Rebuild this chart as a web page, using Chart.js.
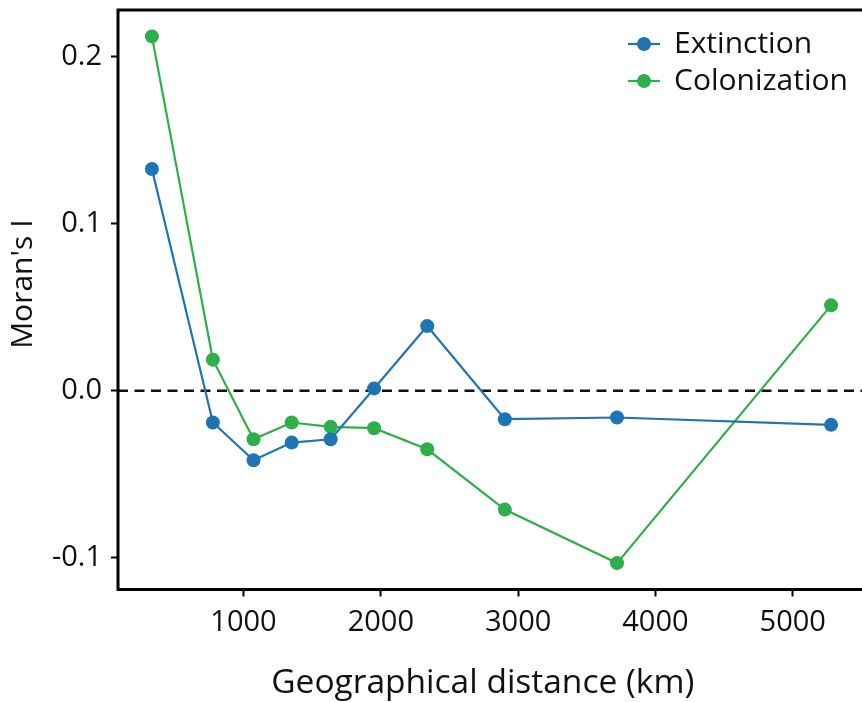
<!DOCTYPE html>
<html><head><meta charset="utf-8">
<script src="https://cdn.jsdelivr.net/npm/chart.js@4"></script>
<style>html,body{margin:0;padding:0;overflow:hidden;background:#fff;width:862px;height:702px}
#wrap{position:absolute;left:0;top:0;width:872px;height:702px}</style>
</head><body><div id="wrap"><canvas id="c" width="872" height="702"></canvas></div>
<script>
const distances = [333, 777, 1073, 1351, 1635, 1951, 2338, 2903, 3720, 5279];
const extinction = [0.1327, -0.019, -0.0416, -0.031, -0.029, 0.0014, 0.0387, -0.017, -0.016, -0.0204];
const colonization = [0.212, 0.0186, -0.029, -0.019, -0.0216, -0.0224, -0.035, -0.0711, -0.1031, 0.0511];
const seriesNames = ['Extinction', 'Colonization'];
const xTicks = [1000, 2000, 3000, 4000, 5000];
const yTicks = [-0.1, 0.0, 0.1, 0.2];
const refLine = 0;

const BLUE = '#1f74b4', GREEN = '#2daf49';
const FONT = '"Open Sans", sans-serif';

const toPts = (xs, ys) => xs.map((x, i) => ({x, y: ys[i]}));

const framePlugin = {
  id: 'frame',
  beforeDatasetsDraw(chart) {
    const {ctx, chartArea: a, scales: {y}} = chart;
    const py = y.getPixelForValue(refLine);
    ctx.save();
    ctx.strokeStyle = '#111';
    ctx.lineWidth = 2.4;
    ctx.setLineDash([10, 6.5]);
    ctx.beginPath(); ctx.moveTo(a.left, py); ctx.lineTo(a.right, py); ctx.stroke();
    ctx.restore();
  },
  afterDraw(chart) {
    const {ctx, chartArea: a} = chart;
    ctx.save();
    ctx.strokeStyle = '#000';
    ctx.lineWidth = 3;
    ctx.strokeRect(a.left, a.top, a.right - a.left, a.bottom - a.top);
    // legend
    const rows = chart.data.datasets.map(d => ({label: d.label, color: d.borderColor}));
    rows.forEach((r, i) => {
      const yy = 44 + i * 37;
      ctx.strokeStyle = r.color; ctx.lineWidth = 2.2;
      ctx.beginPath(); ctx.moveTo(628, yy); ctx.lineTo(660, yy); ctx.stroke();
      ctx.fillStyle = r.color;
      ctx.beginPath(); ctx.arc(644, yy, 7, 0, Math.PI * 2); ctx.fill();
      ctx.fillStyle = '#111';
      ctx.font = '30px ' + FONT;
      ctx.textBaseline = 'middle';
      ctx.textAlign = 'left';
      ctx.fillText(r.label, 674, yy);
    });
    ctx.restore();
  }
};

new Chart(document.getElementById('c'), {
  type: 'line',
  data: {
    datasets: [
      {label: seriesNames[0], data: toPts(distances, extinction), borderColor: BLUE, backgroundColor: BLUE,
       borderWidth: 2.2, pointRadius: 7, pointBorderWidth: 0, tension: 0},
      {label: seriesNames[1], data: toPts(distances, colonization), borderColor: GREEN, backgroundColor: GREEN,
       borderWidth: 2.2, pointRadius: 7, pointBorderWidth: 0, tension: 0}
    ]
  },
  options: {
    responsive: false,
    animation: false,
    devicePixelRatio: 1,
    layout: {padding: {left: 0, top: 10, right: 5, bottom: 0}},
    plugins: {legend: {display: false}, tooltip: {enabled: false}},
    scales: {
      x: {
        type: 'linear', min: 86, max: 5526,
        afterBuildTicks: s => { s.ticks = xTicks.map(v => ({value: v})); },
        afterFit: s => { s.height = 112.5; s.paddingLeft = 0; s.paddingRight = 0; },
        border: {display: false},
        grid: {display: true, drawOnChartArea: false, drawTicks: true, tickLength: 7, tickWidth: 2, tickColor: '#000'},
        ticks: {color: '#111', font: {family: FONT, size: 29}, padding: 9, maxRotation: 0,
                callback: v => String(v)},
        title: {display: true, text: 'Geographical distance (km)  ', color: '#111',
                font: {family: FONT, size: 33.5}, padding: {top: 0, bottom: -2}}
      },
      y: {
        type: 'linear', min: -0.1189, max: 0.2278,
        afterBuildTicks: s => { s.ticks = yTicks.map(v => ({value: v})); },
        afterFit: s => { s.width = 118; s.paddingTop = 0; s.paddingBottom = 0; },
        border: {display: false},
        grid: {display: true, drawOnChartArea: false, drawTicks: true, tickLength: 7, tickWidth: 2, tickColor: '#000'},
        ticks: {color: '#111', font: {family: FONT, size: 29}, padding: 9,
                callback: v => Number(v).toFixed(1)},
        title: {display: true, text: "    Moran's I", color: '#111',
                font: {family: FONT, size: 30}, padding: {top: 5, bottom: 0}}
      }
    }
  },
  plugins: [framePlugin]
});
</script></body></html>
